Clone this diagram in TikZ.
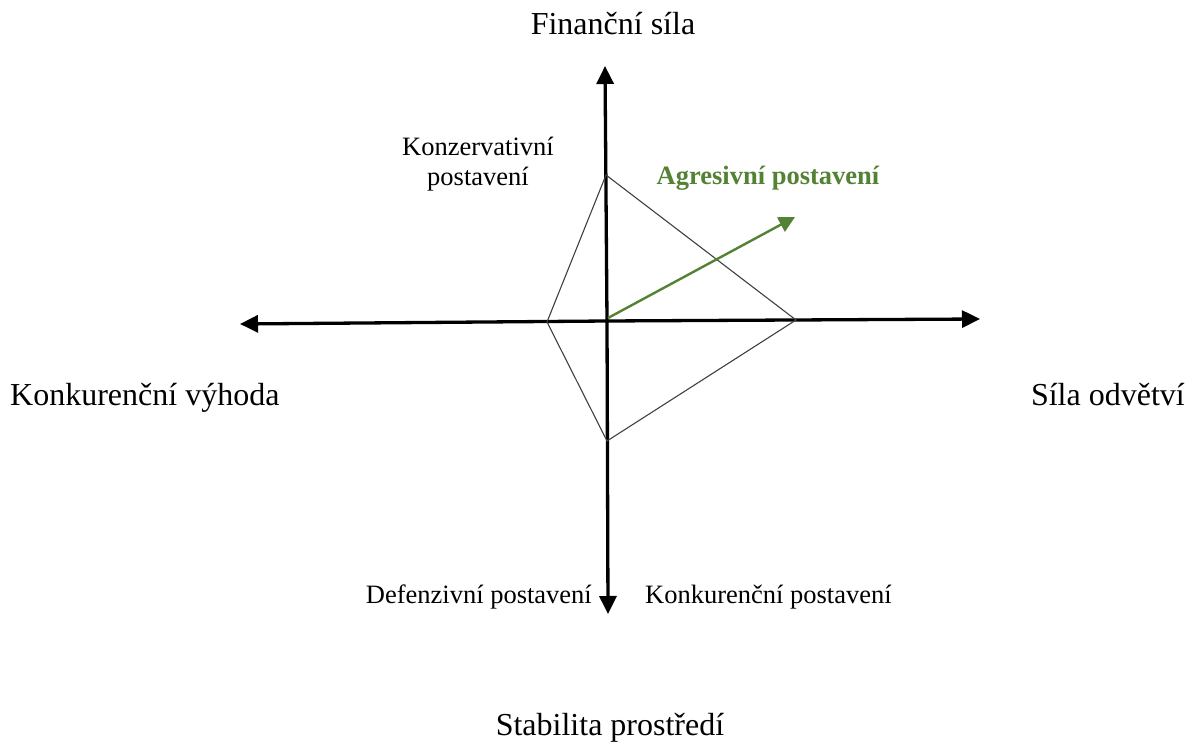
\documentclass[tikz,border=0pt]{standalone}
\usepackage{fontspec}
\setmainfont{Liberation Serif}
\usetikzlibrary{arrows.meta}
\definecolor{agreen}{HTML}{548235}
\begin{document}
\begin{tikzpicture}[x=1pt,y=-1pt,
  axis/.style={line width=3.3pt,-{Triangle[length=18pt,width=17pt]}},
  shape line/.style={line width=1.1pt,draw=black!75,line join=miter},
  biglabel/.style={font=\fontsize{32}{38}\selectfont,inner sep=0pt},
  smalllabel/.style={font=\fontsize{26.5}{30}\selectfont,inner sep=0pt},
  greenarrow/.style={line width=2.4pt,draw=agreen,-{Triangle[length=16pt,width=16pt]}}]
\useasboundingbox (0,0) rectangle (1192,751);
% axis end points
\coordinate (topend) at (605,66);
\coordinate (botend) at (608,614);
\coordinate (leftend) at (240,324);
\coordinate (rightend) at (980,319);
\coordinate (origin) at (607,321);
% axes
\draw[axis] (origin) -- (topend);
\draw[axis] (origin) -- (botend);
\draw[axis] (origin) -- (leftend);
\draw[axis] (origin) -- (rightend);
% diamond
\coordinate (dtop) at (606,175);
\coordinate (dright) at (796,320);
\coordinate (dbot) at (607,441);
\coordinate (dleft) at (547,322);
\draw[shape line] (dtop) -- (dright) -- (dbot) -- (dleft) -- cycle;
% green arrow
\coordinate (gstart) at (608,318);
\coordinate (gend) at (795,217);
\draw[greenarrow] (gstart) -- (gend);
% labels
\node[biglabel,anchor=base] (fin) at (613,35) {Finanční síla};
\node[biglabel,anchor=base west] (kv) at (10,406) {Konkurenční výhoda};
\node[biglabel,anchor=base east] (so) at (1185,406) {Síla odvětví};
\node[biglabel,anchor=base] (sp) at (610,735) {Stabilita prostředí};
\node[smalllabel,align=center,anchor=center] (kons) at (478,164) {Konzervativní\\postavení};
\node[smalllabel,anchor=base east] (def) at (592,603) {Defenzivní postavení};
\node[smalllabel,anchor=base west] (konk) at (645,603) {Konkurenční postavení};
\node[smalllabel,anchor=base,text=agreen,font=\fontsize{26.5}{30}\selectfont\bfseries] (agr) at (768,185) {Agresivní postavení};
\end{tikzpicture}
\end{document}
